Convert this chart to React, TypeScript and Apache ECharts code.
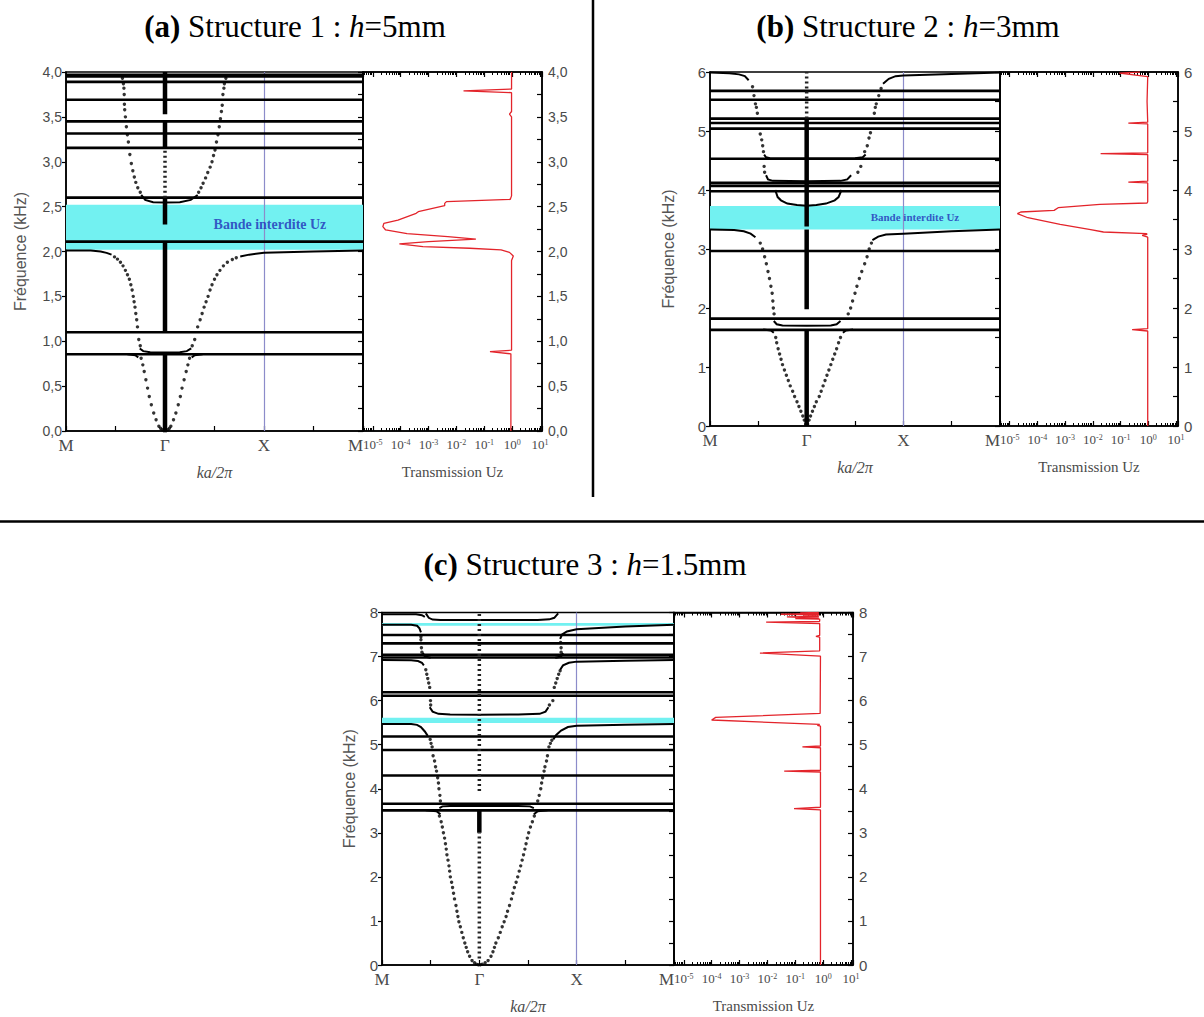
import React, { useEffect, useRef } from 'react';
import * as echarts from 'echarts';

// ---------- shared tick labels ----------
const kTickLabels = ['M', 'Γ', 'X', 'M'];
// transmission axis range (log10 exponents of its two ends)
const transExpRange = [-5.35, 1.07];

// ---------- Panel (a) : h = 5 mm ----------
const flatA = [3.97, 3.95, 3.89, 3.69, 3.45, 3.315, 3.155, 2.6, 2.11, 1.1, 0.855];
const curvesA = [
  [[0, 2.01], [0.25, 2.01], [0.35, 2.0], [0.41, 1.985], [0.46, 1.965]],
  [[1.76, 1.945], [1.85, 1.965], [2.0, 1.985], [2.5, 2.0], [3.0, 2.01]],
  [[0.73, 0.82], [0.7, 0.845], [0.62, 0.855]],
  [[1.27, 0.82], [1.3, 0.845], [1.38, 0.855]],
  [[0.745, 0.92], [0.78, 0.89], [0.85, 0.878], [1.0, 0.875], [1.15, 0.878], [1.22, 0.89], [1.265, 0.92]],
  [[0.76, 2.63], [0.8, 2.575], [0.88, 2.55], [1.0, 2.545], [1.15, 2.55], [1.26, 2.575], [1.33, 2.63]],
];
const dotsA = [
  [0.99, 0.003], [0.972, 0.015], [0.955, 0.03], [0.938, 0.052], [0.91, 0.126], [0.886, 0.2], [0.862, 0.293],
  [0.841, 0.385], [0.824, 0.478], [0.807, 0.57], [0.79, 0.663], [0.776, 0.737], [0.759, 0.81],
  [1.01, 0.003], [1.028, 0.015], [1.045, 0.03], [1.059, 0.052], [1.086, 0.126], [1.11, 0.2], [1.134, 0.293],
  [1.155, 0.385], [1.172, 0.478], [1.193, 0.57], [1.214, 0.663], [1.231, 0.737], [1.248, 0.81],
  [0.75, 0.95], [0.735, 1.02], [0.722, 1.16], [0.714, 1.24], [0.705, 1.31], [0.697, 1.38], [0.688, 1.44],
  [0.679, 1.5], [0.668, 1.57], [0.655, 1.63], [0.64, 1.69], [0.621, 1.74], [0.6, 1.79], [0.576, 1.84],
  [0.55, 1.88], [0.52, 1.915], [0.49, 1.94],
  [1.275, 0.95], [1.3, 1.02], [1.33, 1.16], [1.355, 1.24], [1.375, 1.31], [1.395, 1.38], [1.415, 1.44],
  [1.435, 1.5], [1.455, 1.57], [1.475, 1.63], [1.5, 1.69], [1.525, 1.74], [1.555, 1.79], [1.59, 1.84],
  [1.63, 1.88], [1.68, 1.91], [1.72, 1.93],
  [0.75, 2.66], [0.725, 2.71], [0.705, 2.77], [0.69, 2.83], [0.675, 2.9], [0.66, 2.98], [0.645, 3.08],
  [0.63, 3.22], [0.62, 3.3], [0.61, 3.39], [0.6, 3.5], [0.593, 3.58], [0.59, 3.64], [0.588, 3.75],
  [0.585, 3.82], [0.58, 3.87], [0.57, 3.93],
  [1.34, 2.66], [1.364, 2.71], [1.385, 2.76], [1.41, 2.82], [1.432, 2.88], [1.456, 2.94], [1.475, 3.0],
  [1.49, 3.07], [1.505, 3.13], [1.52, 3.22], [1.535, 3.3], [1.548, 3.39], [1.56, 3.48], [1.57, 3.56],
  [1.578, 3.63], [1.585, 3.75], [1.595, 3.82], [1.6, 3.87], [1.615, 3.93],
];
const gammaA = [[0, 0.855], [1.1, 2.11], [2.3, 2.6], [3.155, 3.45], [3.53, 4.0]];
const gammaDottedA = [[2.6, 3.155]];
const gapA = [[2.02, 2.52]];
const gapLabelA = [2.06, 2.3];
const transA = [
  [0.9, 0], [0.9, 0.86], [0.16, 0.884], [0.95, 0.9], [0.95, 1.9], [1.1, 1.95], [0.8, 1.99],
  [0.4, 2.017], [0.03, 2.036], [6.3e-4, 2.054], [9e-5, 2.084], [1e-3, 2.11], [0.05, 2.139],
  [4.9e-3, 2.165], [1.7e-4, 2.2], [2.9e-5, 2.24], [2.3e-5, 2.277], [2.5e-5, 2.314], [8e-5, 2.35],
  [3.6e-4, 2.425], [4.3e-4, 2.444], [3.8e-3, 2.51], [3.8e-3, 2.536], [4.4e-3, 2.556], [0.85, 2.58],
  [0.95, 2.62], [0.95, 3.5], [0.8, 3.53], [0.95, 3.56], [0.95, 3.77], [0.018, 3.79], [0.95, 3.81], [0.95, 4.0],
];

// ---------- Panel (b) : h = 3 mm ----------
const flatB = [5.68, 5.53, 5.21, 5.135, 5.04, 4.53, 4.12, 4.07, 3.98, 2.966, 1.82, 1.63];
const curvesB = [
  [[0, 5.99], [0.2, 5.98], [0.3, 5.96], [0.36, 5.93], [0.4, 5.86]],
  [[1.79, 5.8], [1.85, 5.885], [1.92, 5.93], [2.0, 5.94], [2.5, 5.965], [3.0, 5.99]],
  [[0, 3.33], [0.25, 3.32], [0.35, 3.3], [0.42, 3.26], [0.47, 3.2]],
  [[1.68, 3.15], [1.74, 3.21], [1.82, 3.245], [2.0, 3.26], [2.5, 3.3], [3.0, 3.33]],
  [[0.66, 1.58], [0.63, 1.62], [0.55, 1.635]],
  [[1.375, 1.58], [1.405, 1.62], [1.48, 1.635]],
  [[0.66, 1.78], [0.69, 1.725], [0.75, 1.705], [1.0, 1.7], [1.25, 1.705], [1.31, 1.725], [1.35, 1.78]],
  [[0.675, 4.0], [0.7, 3.88], [0.734, 3.825], [0.8, 3.77], [0.9, 3.745], [1.0, 3.735], [1.1, 3.745],
    [1.2, 3.77], [1.29, 3.825], [1.33, 3.88], [1.36, 4.0]],
  [[0.58, 4.25], [0.6, 4.18], [0.65, 4.155], [1.0, 4.15], [1.35, 4.155], [1.42, 4.18], [1.46, 4.25]],
  [[0.56, 4.6], [0.58, 4.555], [0.62, 4.54], [1.0, 4.535], [1.5, 4.54], [1.58, 4.555], [1.61, 4.6]],
];
const dotsB = [
  [0.99, 0.03], [0.975, 0.1], [0.96, 0.17], [0.94, 0.25], [0.92, 0.33], [0.9, 0.41], [0.875, 0.5],
  [0.855, 0.59], [0.83, 0.68], [0.81, 0.77], [0.79, 0.86], [0.77, 0.95], [0.75, 1.04], [0.735, 1.13],
  [0.72, 1.22], [0.705, 1.31], [0.69, 1.41], [0.68, 1.5],
  [1.01, 0.03], [1.025, 0.1], [1.04, 0.17], [1.06, 0.25], [1.08, 0.33], [1.1, 0.41], [1.13, 0.5],
  [1.15, 0.59], [1.17, 0.68], [1.19, 0.77], [1.21, 0.86], [1.23, 0.95], [1.25, 1.04], [1.27, 1.13],
  [1.29, 1.22], [1.31, 1.31], [1.33, 1.41], [1.35, 1.5],
  [0.663, 1.9], [0.655, 2.0], [0.65, 2.12], [0.643, 2.25], [0.63, 2.37], [0.615, 2.5], [0.6, 2.62],
  [0.583, 2.75], [0.565, 2.87], [0.544, 3.0], [0.52, 3.1],
  [1.43, 1.9], [1.455, 2.0], [1.475, 2.12], [1.5, 2.25], [1.52, 2.37], [1.545, 2.5], [1.57, 2.62],
  [1.6, 2.75], [1.625, 2.87], [1.647, 3.0], [1.67, 3.1],
  [0.565, 4.3], [0.56, 4.4], [0.553, 4.65], [0.545, 4.75], [0.535, 4.85], [0.52, 4.95], [0.49, 5.3],
  [0.48, 5.4], [0.47, 5.46], [0.455, 5.6], [0.44, 5.75],
  [1.53, 4.3], [1.56, 4.4], [1.6, 4.65], [1.627, 4.75], [1.645, 4.88], [1.66, 4.97], [1.7, 5.3],
  [1.71, 5.4], [1.72, 5.46], [1.746, 5.6], [1.77, 5.72],
];
const gammaB = [[0, 1.63], [1.98, 3.33], [3.38, 5.21]];
const gammaDottedB = [[5.21, 6.0]];
const gapB = [[3.33, 3.73]];
const gapLabelB = [2.12, 3.55];
const transB = [
  [0.95, 0], [0.95, 1.61], [0.26, 1.633], [0.95, 1.65], [0.95, 3.2], [0.6, 3.23], [0.9, 3.25],
  [0.86, 3.26], [0.024, 3.288], [8.3e-3, 3.328], [6.6e-4, 3.418], [4.5e-5, 3.53], [1.9e-5, 3.6],
  [2.5e-5, 3.627], [4e-4, 3.655], [5.6e-4, 3.7], [0.018, 3.757], [0.9, 3.78], [0.95, 3.8],
  [0.95, 4.12], [0.19, 4.135], [0.95, 4.15], [0.95, 4.6], [0.019, 4.615], [0.95, 4.63],
  [0.95, 5.12], [0.19, 5.135], [0.95, 5.15], [0.9, 5.5], [0.95, 5.92], [0.09, 5.98], [0.5, 6.0],
];

// ---------- Panel (c) : h = 1.5 mm ----------
const flatC = [7.49, 7.3, 7.04, 6.98, 6.19, 6.11, 5.185, 4.88, 4.3, 3.66, 3.51];
const curvesC = [
  [[0, 7.96], [0.35, 7.96], [0.41, 7.94], [0.44, 7.9]],
  [[0.45, 7.98], [0.48, 7.88], [0.52, 7.84], [0.6, 7.83], [1.0, 7.83], [1.6, 7.83], [1.72, 7.845], [1.77, 7.88], [1.81, 7.98]],
  [[0, 7.72], [0.3, 7.72], [0.36, 7.7], [0.385, 7.64], [0.4, 7.55]],
  [[1.83, 7.4], [1.85, 7.5], [1.9, 7.57], [2.0, 7.62], [2.5, 7.68], [3.0, 7.72]],
  [[0, 6.92], [0.3, 6.915], [0.37, 6.9], [0.41, 6.86], [0.43, 6.8]],
  [[1.83, 6.7], [1.86, 6.8], [1.92, 6.86], [2.0, 6.885], [2.5, 6.905], [3.0, 6.92]],
  [[0.42, 7.08], [0.44, 7.0], [0.5, 6.975]],
  [[1.78, 6.975], [1.84, 7.0], [1.86, 7.08]],
  [[0.49, 5.85], [0.52, 5.75], [0.58, 5.7], [0.7, 5.685], [1.0, 5.68], [1.4, 5.685], [1.62, 5.7], [1.68, 5.75], [1.71, 5.85]],
  [[0, 5.47], [0.3, 5.47], [0.36, 5.45], [0.4, 5.4], [0.44, 5.3], [0.47, 5.2]],
  [[1.76, 5.12], [1.79, 5.22], [1.84, 5.32], [1.91, 5.4], [2.0, 5.43], [2.5, 5.45], [3.0, 5.47]],
  [[0.59, 3.56], [0.62, 3.6], [0.7, 3.61], [1.0, 3.61], [1.4, 3.61], [1.52, 3.6], [1.56, 3.56]],
  [[0.6, 3.42], [0.56, 3.49], [0.45, 3.51]],
  [[1.56, 3.42], [1.6, 3.49], [1.7, 3.51]],
];
const dotsC = [
  [0.99, 0.005], [0.97, 0.02], [0.95, 0.05], [0.925, 0.1], [0.9, 0.2], [0.88, 0.3], [0.865, 0.4],
  [0.851, 0.5], [0.835, 0.62], [0.82, 0.74], [0.805, 0.87], [0.79, 0.98], [0.78, 1.1], [0.77, 1.22],
  [0.76, 1.35], [0.745, 1.5], [0.735, 1.63], [0.725, 1.76], [0.715, 1.88], [0.702, 2.0], [0.695, 2.13],
  [0.688, 2.25], [0.678, 2.38], [0.667, 2.5], [0.66, 2.63], [0.652, 2.75], [0.643, 2.88], [0.631, 3.0],
  [0.62, 3.13], [0.608, 3.25], [0.59, 3.38],
  [1.01, 0.005], [1.03, 0.02], [1.06, 0.05], [1.09, 0.1], [1.12, 0.2], [1.14, 0.3], [1.155, 0.4],
  [1.17, 0.5], [1.195, 0.62], [1.215, 0.74], [1.235, 0.87], [1.255, 0.98], [1.275, 1.1], [1.29, 1.22],
  [1.31, 1.35], [1.33, 1.5], [1.345, 1.63], [1.36, 1.76], [1.378, 1.88], [1.394, 2.0], [1.41, 2.13],
  [1.425, 2.25], [1.44, 2.38], [1.454, 2.5], [1.468, 2.63], [1.48, 2.75], [1.493, 2.88], [1.507, 3.0],
  [1.525, 3.13], [1.545, 3.25], [1.565, 3.38],
  [0.6, 3.72], [0.595, 3.85], [0.585, 4.0], [0.58, 4.13], [0.572, 4.25], [0.56, 4.4], [0.55, 4.5],
  [0.54, 4.63], [0.525, 4.75], [0.515, 4.95], [0.504, 5.03], [0.495, 5.12],
  [1.6, 3.72], [1.615, 3.85], [1.631, 4.0], [1.64, 4.13], [1.65, 4.25], [1.665, 4.4], [1.674, 4.5],
  [1.69, 4.63], [1.7, 4.75], [1.715, 4.95], [1.73, 5.03], [1.745, 5.1],
  [0.5, 5.9], [0.498, 6.0], [0.49, 6.3], [0.48, 6.4], [0.47, 6.5], [0.46, 6.6], [0.45, 6.7],
  [1.72, 5.9], [1.755, 6.0], [1.77, 6.3], [1.785, 6.4], [1.8, 6.5], [1.815, 6.6], [1.83, 6.68],
  [0.41, 7.1], [0.405, 7.2], [0.4, 7.38], [0.4, 7.45],
  [1.84, 7.1], [1.84, 7.2], [1.835, 7.32],
];
const gammaC = [[3.0, 3.51]];
const gammaDottedC = [[0.15, 3.0], [3.95, 8.0]];
const gapC = [[7.7, 7.76], [5.49, 5.61]];
const gapLabelC = null;
const transC = [
  [0.8, 0], [0.8, 3.52], [0.09, 3.55], [0.8, 3.58], [0.8, 4.38], [0.04, 4.4], [0.8, 4.42],
  [0.8, 4.93], [0.18, 4.95], [0.8, 4.97], [0.8, 5.42], [0.62, 5.44], [0.75, 5.46], [1e-4, 5.56],
  [1.4e-4, 5.62], [0.78, 5.71], [0.8, 7.01], [0.0054, 7.08], [0.75, 7.13], [0.75, 7.44],
  [0.55, 7.46], [0.75, 7.48], [0.75, 7.75], [0.009, 7.78], [0.75, 7.8], [0.75, 7.85], [0.1, 7.86],
  [0.7, 7.875], [0.05, 7.9], [0.7, 7.91], [0.2, 7.93], [0.72, 7.945], [0.03, 7.96], [0.7, 7.975],
  [0.15, 7.99], [0.7, 8.0],
];

// ---------- layout (positions / styles) ----------
const layouts = [
  {
    band: { left: 66, top: 72, width: 297, height: 359 },
    trans: { left: 363, top: 72, width: 179, height: 359 },
    yMax: 4, yStep: 0.5, decimals: 1, yNameGap: 38, tickFont: 14, gapFont: 14,
    title: { x: 295, y: 26, text: '{b|(a)} Structure 1 : {i|h}=5mm' },
  },
  {
    band: { left: 710, top: 72, width: 290, height: 354 },
    trans: { left: 1000, top: 72, width: 178, height: 354 },
    yMax: 6, yStep: 1, decimals: 0, yNameGap: 34, tickFont: 15, gapFont: 11,
    title: { x: 908, y: 26, text: '{b|(b)} Structure 2 : {i|h}=3mm' },
  },
  {
    band: { left: 382, top: 612.5, width: 292, height: 352.5 },
    trans: { left: 674, top: 612.5, width: 179, height: 352.5 },
    yMax: 8, yStep: 1, decimals: 0, yNameGap: 25, tickFont: 15, gapFont: 11,
    title: { x: 585, y: 564, text: '{b|(c)} Structure 3 : {i|h}=1.5mm' },
  },
];

const panels = [
  { flat: flatA, curves: curvesA, dots: dotsA, gamma: gammaA, gammaDotted: gammaDottedA, gaps: gapA, gapLabel: gapLabelA, trans: transA },
  { flat: flatB, curves: curvesB, dots: dotsB, gamma: gammaB, gammaDotted: gammaDottedB, gaps: gapB, gapLabel: gapLabelB, trans: transB },
  { flat: flatC, curves: curvesC, dots: dotsC, gamma: gammaC, gammaDotted: gammaDottedC, gaps: gapC, gapLabel: gapLabelC, trans: transC },
];

const SERIF = 'Liberation Serif';
const SANS = 'Liberation Sans';
const LABEL_GRAY = '#4a4a4a';
const BLACK_LINE = { color: '#000', width: 1.5 };

function buildOption() {
  const grid: any[] = [];
  const xAxis: any[] = [];
  const yAxis: any[] = [];
  const series: any[] = [];
  const graphic: any[] = [];
  const tMin = Math.pow(10, transExpRange[0]);
  const tMax = Math.pow(10, transExpRange[1]);

  panels.forEach((p, i) => {
    const L = layouts[i];
    const gB = i * 2;
    const gT = i * 2 + 1;
    const xi = i * 3;
    const yi = i * 3;
    const yFmt = (v: number) => v.toFixed(L.decimals).replace('.', ',');

    grid.push({ ...L.band, show: true, borderColor: '#000', borderWidth: 1.5, backgroundColor: 'transparent', outerBoundsMode: 'none' });
    grid.push({ ...L.trans, show: true, borderColor: '#000', borderWidth: 1.5, backgroundColor: 'transparent', outerBoundsMode: 'none' });

    // x axes
    xAxis.push({
      gridIndex: gB, type: 'value', min: 0, max: 3, interval: 1, position: 'bottom',
      axisLine: { show: true, lineStyle: BLACK_LINE },
      axisTick: { show: true, inside: true, length: 5, lineStyle: { color: '#000', width: 1.2 } },
      minorTick: { show: true, splitNumber: 2, length: 5, lineStyle: { color: '#000', width: 1.2 } },
      splitLine: { show: false },
      axisLabel: {
        formatter: (v: number) => kTickLabels[Math.round(v)], fontFamily: SERIF, fontSize: 17, color: LABEL_GRAY, margin: 6,
        alignMaxLabel: 'right',
      },
      name: 'ka/2π', nameLocation: 'middle', nameGap: 33,
      nameTextStyle: { fontFamily: SERIF, fontStyle: 'italic', fontSize: 16, color: LABEL_GRAY },
    });
    const logFmt = (v: number) => {
      const e = Math.log10(v);
      if (Math.abs(e - Math.round(e)) > 0.01) return '';
      return `{b|10}{s|${Math.round(e)}}`;
    };
    const logLabel = {
      formatter: logFmt,
      margin: 7,
      rich: {
        b: { fontFamily: SERIF, fontSize: 13, color: LABEL_GRAY },
        s: { fontFamily: SERIF, fontSize: 8, color: LABEL_GRAY, verticalAlign: 'top', lineHeight: 8 },
      },
    };
    xAxis.push({
      gridIndex: gT, type: 'log', logBase: 10, min: tMin, max: tMax, splitNumber: 6, position: 'bottom',
      axisLine: { show: true, lineStyle: BLACK_LINE },
      axisTick: { show: true, inside: true, length: 5, lineStyle: { color: '#000', width: 1.2 } },
      minorTick: { show: true, splitNumber: 9, length: 3, lineStyle: { color: '#000', width: 1 } },
      splitLine: { show: false },
      axisLabel: logLabel,
      name: 'Transmission Uz', nameLocation: 'middle', nameGap: 33,
      nameTextStyle: { fontFamily: SERIF, fontSize: 15, color: LABEL_GRAY },
    });
    xAxis.push({
      gridIndex: gT, type: 'log', logBase: 10, min: tMin, max: tMax, splitNumber: 6, position: 'top',
      axisLine: { show: true, lineStyle: BLACK_LINE },
      axisTick: { show: true, inside: true, length: 5, lineStyle: { color: '#000', width: 1.2 } },
      minorTick: { show: true, splitNumber: 9, length: 3, lineStyle: { color: '#000', width: 1 } },
      splitLine: { show: false },
      axisLabel: { show: false },
    });

    // y axes
    yAxis.push({
      gridIndex: gB, type: 'value', min: 0, max: L.yMax, interval: L.yStep, position: 'left',
      axisLine: { show: true, lineStyle: BLACK_LINE },
      axisTick: { show: true, inside: false, length: 4, lineStyle: { color: '#000', width: 1.2 } },
      splitLine: { show: false },
      axisLabel: { formatter: yFmt, fontFamily: SANS, fontSize: L.tickFont, color: LABEL_GRAY, margin: 4 },
      name: 'Fréquence (kHz)', nameLocation: 'middle', nameGap: L.yNameGap,
      nameTextStyle: { fontFamily: SANS, fontSize: 16, color: '#555' },
    });
    yAxis.push({
      gridIndex: gB, type: 'value', min: 0, max: L.yMax, interval: L.yStep, position: 'right',
      axisLine: { show: true, lineStyle: BLACK_LINE },
      axisTick: { show: true, inside: true, length: 5, lineStyle: { color: '#000', width: 1.2 } },
      minorTick: { show: true, splitNumber: 2, length: 5, lineStyle: { color: '#000', width: 1.2 } },
      splitLine: { show: false },
      axisLabel: { show: false },
    });
    yAxis.push({
      gridIndex: gT, type: 'value', min: 0, max: L.yMax, interval: L.yStep, position: 'right',
      axisLine: { show: true, lineStyle: BLACK_LINE },
      axisTick: { show: true, inside: true, length: 5, lineStyle: { color: '#000', width: 1.2 } },
      minorTick: { show: true, splitNumber: 2, length: 5, lineStyle: { color: '#000', width: 1.2 } },
      splitLine: { show: false },
      axisLabel: { formatter: yFmt, fontFamily: SANS, fontSize: L.tickFont, color: LABEL_GRAY, margin: 6 },
    });

    // X vertical line
    series.push({
      type: 'line', xAxisIndex: xi, yAxisIndex: yi, data: [[2, 0]], symbol: 'none', silent: true, z: 1,
      lineStyle: { opacity: 0 },
      markLine: {
        silent: true, symbol: 'none', label: { show: false },
        lineStyle: { color: '#8c8cca', width: 1.2, type: 'solid' },
        data: [{ xAxis: 2 }],
      },
    });
    // gap (cyan)
    series.push({
      type: 'line', xAxisIndex: xi, yAxisIndex: yi, data: [[2, 0]], symbol: 'none', silent: true, z: 2,
      lineStyle: { opacity: 0 },
      markArea: {
        silent: true, itemStyle: { color: '#72f1f1', opacity: 1 },
        data: p.gaps.map((g) => [{ yAxis: g[0] }, { yAxis: g[1] }]),
      },
    });
    // flat bands
    series.push({
      type: 'lines', coordinateSystem: 'cartesian2d', xAxisIndex: xi, yAxisIndex: yi, polyline: true, silent: true, z: 5,
      lineStyle: { color: '#000', width: 2.6, opacity: 1 },
      data: p.flat.map((f) => ({ coords: [[0, f], [3, f]] })),
    });
    // dense curved parts
    series.push({
      type: 'lines', coordinateSystem: 'cartesian2d', xAxisIndex: xi, yAxisIndex: yi, polyline: true, silent: true, z: 5,
      lineStyle: { color: '#000', width: 2, opacity: 1 },
      data: p.curves.map((c) => ({ coords: c })),
    });
    // Gamma columns
    series.push({
      type: 'lines', coordinateSystem: 'cartesian2d', xAxisIndex: xi, yAxisIndex: yi, polyline: true, silent: true, z: 5,
      lineStyle: { color: '#000', width: 4.5, opacity: 1 },
      data: p.gamma.map((g) => ({ coords: [[1, g[0]], [1, g[1]]] })),
    });
    series.push({
      type: 'lines', coordinateSystem: 'cartesian2d', xAxisIndex: xi, yAxisIndex: yi, polyline: true, silent: true, z: 5,
      lineStyle: { color: '#222', width: 3.5, opacity: 1, type: [2, 3] },
      data: p.gammaDotted.map((g) => ({ coords: [[1, g[0]], [1, g[1]]] })),
    });
    // sparse dots
    series.push({
      type: 'scatter', xAxisIndex: xi, yAxisIndex: yi, symbolSize: 3.4, silent: true, z: 6,
      itemStyle: { color: '#000' },
      data: p.dots,
    });
    // gap label
    if (p.gapLabel) {
      series.push({
        type: 'scatter', xAxisIndex: xi, yAxisIndex: yi, symbolSize: 1, silent: true, z: 7,
        itemStyle: { color: 'rgba(0,0,0,0)' },
        label: {
          show: true, position: 'inside', formatter: 'Bande interdite Uz',
          fontFamily: SERIF, fontWeight: 'bold', fontSize: L.gapFont, color: '#1f2fb8',
        },
        data: [p.gapLabel],
      });
    }
    // transmission
    series.push({
      type: 'line', xAxisIndex: xi + 1, yAxisIndex: yi + 2, showSymbol: false, symbol: 'none', silent: true, z: 4,
      lineStyle: { color: '#e3242b', width: 1.3 },
      data: p.trans,
    });

    graphic.push({
      type: 'text', x: L.title.x, y: L.title.y, silent: true,
      style: {
        text: L.title.text, fontFamily: SERIF, fontSize: 31, fill: '#000', align: 'center', verticalAlign: 'middle',
        rich: {
          b: { fontFamily: SERIF, fontSize: 31, fontWeight: 'bold', fill: '#000' },
          i: { fontFamily: SERIF, fontSize: 31, fontStyle: 'italic', fill: '#000' },
        },
      },
    });
  });

  graphic.push({ type: 'line', silent: true, shape: { x1: 593, y1: 0, x2: 593, y2: 497 }, style: { stroke: '#000', lineWidth: 2.5 } });
  graphic.push({ type: 'line', silent: true, shape: { x1: 0, y1: 521.5, x2: 1204, y2: 521.5 }, style: { stroke: '#000', lineWidth: 2.5 } });

  return { animation: false, backgroundColor: '#fff', grid, xAxis, yAxis, series, graphic };
}

export default function App() {
  const ref = useRef<HTMLDivElement>(null);
  useEffect(() => {
    document.body.style.margin = '0';
    const chart = echarts.init(ref.current as HTMLDivElement, null, { renderer: 'svg' });
    chart.setOption(buildOption() as any);
    return () => chart.dispose();
  }, []);
  return <div ref={ref} style={{ width: 1204, height: 1017 }} />;
}
